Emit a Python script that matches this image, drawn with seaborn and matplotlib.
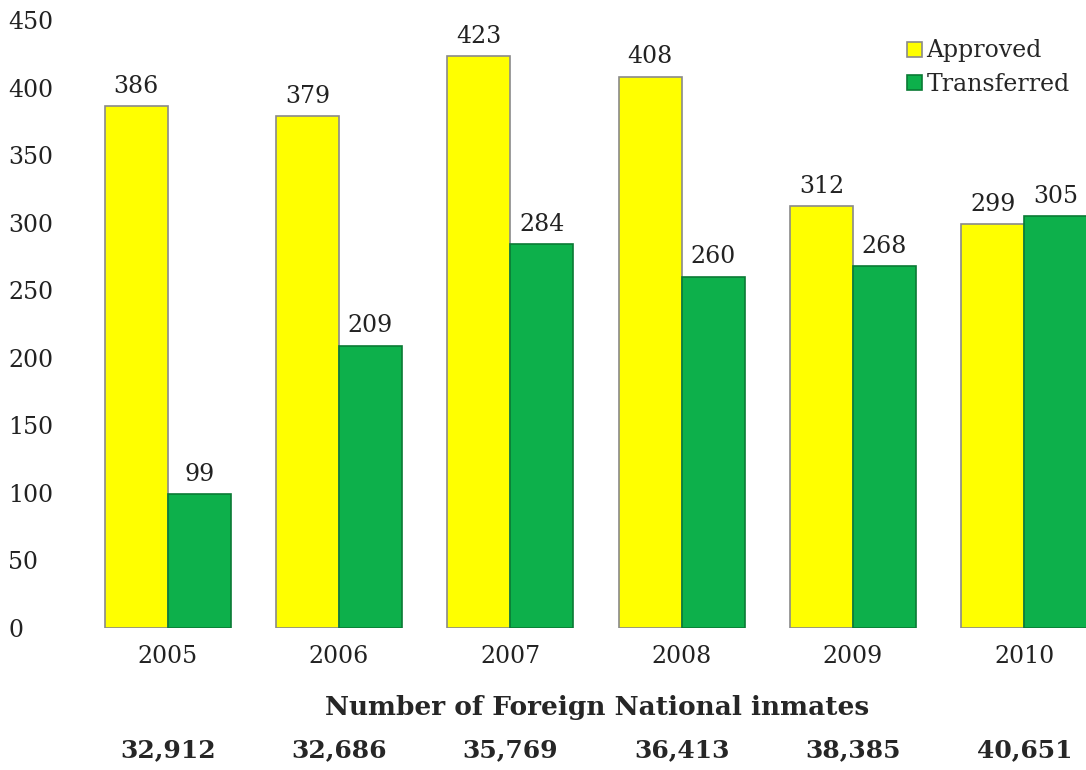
import numpy as np
import pandas as pd
import matplotlib.pyplot as plt
import seaborn as sns

# Data
years = ['2005', '2006', '2007', '2008', '2009', '2010']
approved = [386, 379, 423, 408, 312, 299]
transferred = [99, 209, 284, 260, 268, 305]
inmates = ['32,912', '32,686', '35,769', '36,413', '38,385', '40,651']

df = pd.DataFrame({
    'year': years * 2,
    'count': approved + transferred,
    'status': ['Approved'] * len(years) + ['Transferred'] * len(years)
})

sns.set_style('white')
plt.rcParams['font.family'] = ['DejaVu Serif']

fig = plt.figure(figsize=(10.86, 7.7), dpi=100)
ax = fig.add_axes([70 / 1086, 142 / 770, 1 - 70 / 1086, 608 / 770])

sns.barplot(
    data=df, x='year', y='count', hue='status',
    palette=['#FFFF00', '#0DB04B'], width=0.735,
    saturation=1, ax=ax
)

# bar outlines
for bar, ec in zip(ax.patches, ['#8a8a8a'] * 6 + ['#0a7a35'] * 6):
    bar.set_edgecolor(ec)
    bar.set_linewidth(1.2)

for cont in ax.containers:
    ax.bar_label(cont, padding=6, fontsize=17, color='#222222')

ax.set_ylim(0, 450)
ax.set_xlim(-0.57, 5.36)
ax.set_yticks(range(0, 451, 50))
# left-aligned y labels starting near the figure edge
ax.tick_params(axis='y', labelsize=17, pad=62 * 0.72, length=0, labelcolor='#222222')
ax.tick_params(axis='x', labelsize=17, pad=12, length=0, labelcolor='#222222')
for lbl in ax.get_yticklabels():
    lbl.set_horizontalalignment('left')
ax.set_xlabel('')
ax.set_ylabel('')
sns.despine(ax=ax, left=True, bottom=True)

leg = ax.legend(
    loc='upper left', bbox_to_anchor=(898 / 1086, 1 - 30 / 770),
    bbox_transform=fig.transFigure, frameon=False, fontsize=17,
    handlelength=0.6, handleheight=0.6, handletextpad=0.2,
    labelspacing=0.45, borderaxespad=0
)
for h, ec in zip(leg.legend_handles, ['#8a8a8a', '#0a7a35']):
    h.set_edgecolor(ec)
    h.set_linewidth(1.2)

# Foreign national inmates row
fig.text(597 / 1086, 1 - 708 / 770, 'Number of Foreign National inmates',
         ha='center', va='center', fontsize=19, fontweight='bold')
for i, val in enumerate(inmates):
    xf = ax.transData.transform((i, 0))[0] / fig.bbox.width
    fig.text(xf, 1 - 750 / 770, val, ha='center', va='center',
             fontsize=18, fontweight='bold')

plt.savefig('out.png', dpi=100)
plt.close()
